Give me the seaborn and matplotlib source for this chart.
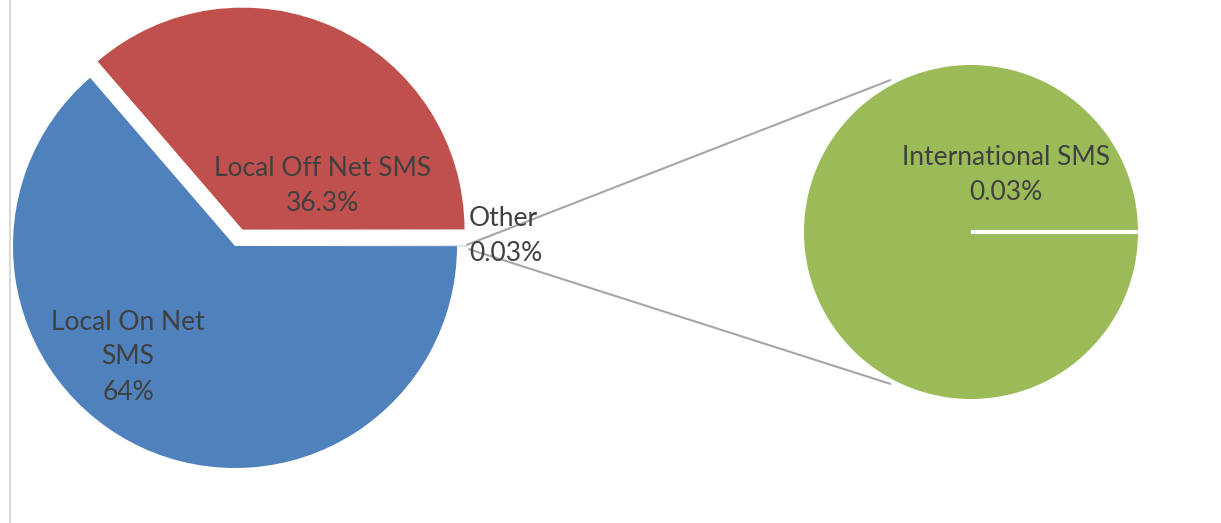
import matplotlib.pyplot as plt
import numpy as np
import seaborn as sns

# main pie: Other, Local Off Net, Local On Net (Excel pie-of-pie, "Other" at 3 o'clock)
main_names = ["Other", "Local Off Net SMS", "Local On Net SMS"]
main_values = [0.03, 36.3, 63.67]
main_labels = ["Other\n0.03%", "Local Off Net SMS\n36.3%", "Local On Net\nSMS\n64%"]
main_colors = ["#4F81BD", "#C0504D", "#4F81BD"]

# secondary pie: breakdown of "Other"
sub_names = ["International SMS"]
sub_values = [0.03]
sub_labels = ["International SMS\n0.03%"]
sub_colors = ["#9BBB59"]

sns.set_style("white")
plt.rcParams['font.family'] = ['Lato', 'DejaVu Sans']

W, H = 1221, 523
fig = plt.figure(figsize=(W / 100, H / 100), dpi=100)
ax = fig.add_axes([0, 0, 1, 1])

c1, r1 = (235, H - 246), 222
c2, r2 = (971, H - 232), 167

start = -main_values[0] / sum(main_values) * 360 / 2
# explode is in data units here (pixels), since radius is given in pixels
wedges, _ = ax.pie(main_values, colors=main_colors, center=c1, radius=r1,
                   startangle=start, counterclock=True,
                   explode=[10, 18, 0],
                   wedgeprops=dict(linewidth=0))
ax.pie(sub_values, colors=sub_colors, center=c2, radius=r2,
       wedgeprops=dict(linewidth=0))

# slice boundary on the secondary pie
ax.plot([c2[0], c2[0] + r2], [c2[1], c2[1]], color="white", lw=3, solid_capstyle="butt")

# connector lines from "Other" slice to the secondary pie
ow = wedges[0]
ocx, ocy = ow.center
p_top = (ocx + ow.r * np.cos(np.radians(ow.theta2)), ocy + ow.r * np.sin(np.radians(ow.theta2)) + 1)
p_bot = (ocx + ow.r * np.cos(np.radians(ow.theta1)) + 2, ocy + ow.r * np.sin(np.radians(ow.theta1)) - 3)
a = np.radians(118)
q_top = (c2[0] + r2 * 1.03 * np.cos(a), c2[1] + r2 * 1.03 * np.sin(a))
q_bot = (c2[0] + r2 * 1.03 * np.cos(a), c2[1] - r2 * 1.03 * np.sin(a))
ax.plot([p_top[0], q_top[0]], [p_top[1], q_top[1]], color="#A6A6A6", lw=1.5)
ax.plot([p_bot[0], q_bot[0]], [p_bot[1], q_bot[1]], color="#A6A6A6", lw=1.5)

txt = dict(color="#404040", fontsize=19, linespacing=1.5)
ax.text(323, H - 186, main_labels[1], ha="center", va="center", **txt)
ax.text(128, H - 357, main_labels[2], ha="center", va="center", **txt)
ax.text(469, H - 236, main_labels[0], ha="left", va="center", **txt)
ax.text(1006, H - 175, sub_labels[0], ha="center", va="center", **txt)

# chart area left border
ax.plot([10, 10], [0, H], color="#D9D9D9", lw=1.5)

ax.set_xlim(0, W)
ax.set_ylim(0, H)
ax.set_aspect("equal")
ax.axis("off")

plt.savefig("out.png", dpi=100)
